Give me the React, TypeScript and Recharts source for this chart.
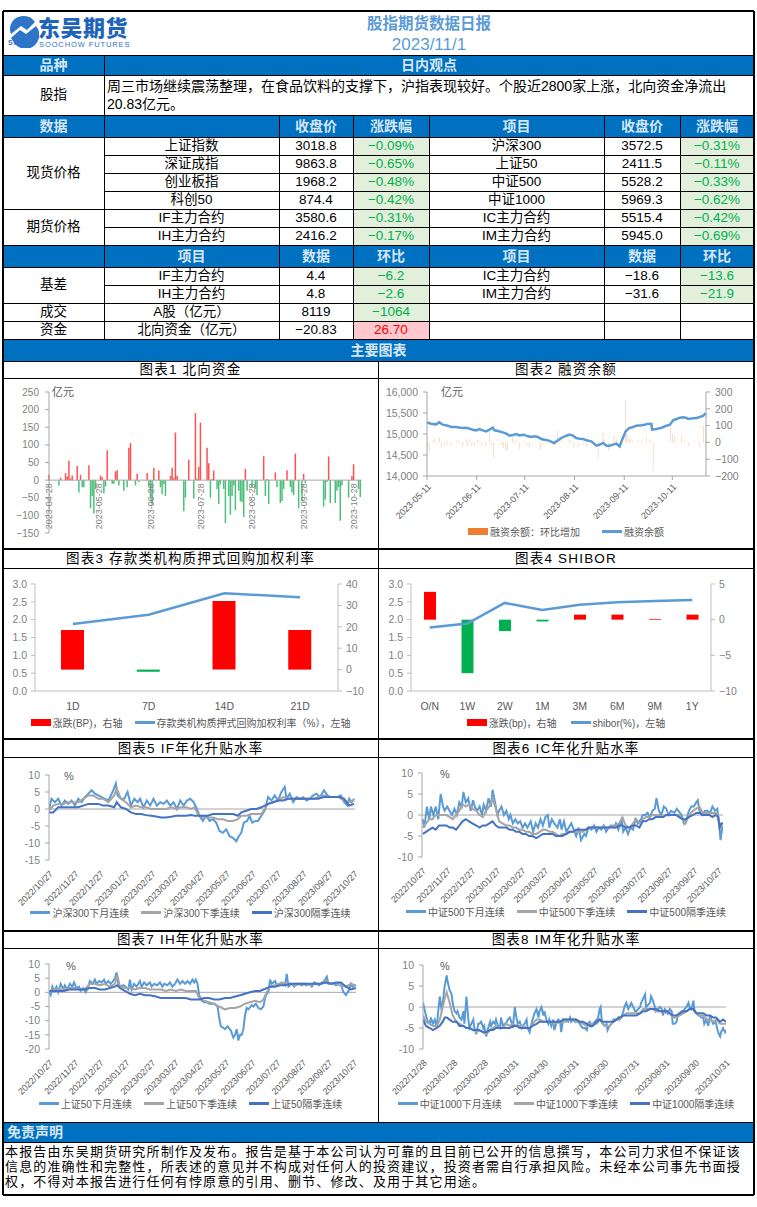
import React from 'react';
import { ComposedChart, Bar, Line, XAxis, YAxis, ReferenceLine, Cell } from 'recharts';

const FONT = '"Liberation Sans", "Noto Sans CJK SC", sans-serif';
const BLUE = '#0070C0';
const HDR_TXT = '#D6E6F5';
const GREEN_BG = '#E2EFDA';
const GREEN_TX = '#00B050';
const RED_BG = '#FFC7CE';
const AX = '#A6A6A6';
const TICK = '#7F7F7F';
const LBLUE = '#5B9BD5';
const GRAY = '#A5A5A5';
const DBLUE = '#4472C4';

// ---------------- table data ----------------
const summaryLines = ['周三市场继续震荡整理，在食品饮料的支撑下，沪指表现较好。个股近2800家上涨，北向资金净流出', '20.83亿元。'];
const spotNames = ['上证指数', '深证成指', '创业板指', '科创50'];
const spotClose = ['3018.8', '9863.8', '1968.2', '874.4'];
const spotChg = ['−0.09%', '−0.65%', '−0.48%', '−0.42%'];
const spotNames2 = ['沪深300', '上证50', '中证500', '中证1000'];
const spotClose2 = ['3572.5', '2411.5', '5528.2', '5969.3'];
const spotChg2 = ['−0.31%', '−0.11%', '−0.33%', '−0.62%'];
const futNames = ['IF主力合约', 'IH主力合约'];
const futClose = ['3580.6', '2416.2'];
const futChg = ['−0.31%', '−0.17%'];
const futNames2 = ['IC主力合约', 'IM主力合约'];
const futClose2 = ['5515.4', '5945.0'];
const futChg2 = ['−0.42%', '−0.69%'];
const basisNames = ['IF主力合约', 'IH主力合约'];
const basisVals = ['4.4', '4.8'];
const basisChg = ['−6.2', '−2.6'];
const basisNames2 = ['IC主力合约', 'IM主力合约'];
const basisVals2 = ['−18.6', '−31.6'];
const basisChg2 = ['−13.6', '−21.9'];
const disclaimerLines = [
  '本报告由东吴期货研究所制作及发布。报告是基于本公司认为可靠的且目前已公开的信息撰写，本公司力求但不保证该',
  '信息的准确性和完整性，所表述的意见并不构成对任何人的投资建议，投资者需自行承担风险。未经本公司事先书面授',
  '权，不得对本报告进行任何有悖原意的引用、删节、修改、及用于其它用途。',
];

// ---------------- chart 1: northbound flow (day offset from 2023-04-28, 亿元) ----------------
const nbTickDays = [0, 30, 61, 91, 122, 153, 183];
const nbTickLabels = ['2023-04-28', '2023-05-28', '2023-06-28', '2023-07-28', '2023-08-28', '2023-09-28', '2023-10-28'];
const nbFlow: [number, number][] = [
  [0, 15], [6, -15], [7, 7], [10, 20], [11, 10], [12, 55], [13, 5], [14, 13], [17, 40], [18, -35], [19, 15], [20, -20], [21, -20],
  [24, 42], [25, -80], [26, -45], [27, -95], [28, -25], [31, 13], [32, 8], [33, -37], [34, -18], [35, 85], [38, -10], [39, -10],
  [40, 25], [41, 28], [42, -15], [45, -30], [47, -20], [48, 92], [49, 105], [52, -15], [53, 18], [54, -5], [59, 20], [60, -15],
  [61, -50], [62, -70], [63, 35], [66, 27], [67, -20], [68, -40], [69, -12], [70, -45], [73, 12], [74, 35], [75, 5], [76, 135],
  [77, 12], [81, -88], [82, -50], [84, 58], [87, -52], [88, 190], [89, 4], [90, 38], [91, 163], [95, 92], [96, 48], [97, -50],
  [98, 3], [99, 27], [101, -25], [102, -68], [103, -12], [105, -25], [106, -122], [108, -45], [109, -98], [110, -45], [111, -15],
  [112, -85], [114, -30], [115, -60], [116, -62], [117, -105], [118, 32], [119, -30], [122, -20], [124, -25], [125, -42], [129, 68],
  [130, -45], [131, 3], [132, -68], [136, 22], [137, -20], [139, -65], [140, -60], [141, -25], [143, 28], [145, -20], [146, -35],
  [147, -42], [148, 75], [150, -80], [152, -60], [153, 18], [154, -8], [165, -75], [166, -55], [167, -5], [168, 67], [169, -65],
  [172, -65], [173, -30], [174, -20], [175, -115], [176, -15], [180, -50], [182, 12], [183, 45], [186, -25], [187, -48],
];

// ---------------- chart 2: margin balance (day offset from 2023-05-11) ----------------
const mgTickDays = [0, 31, 61, 92, 123, 153];
const mgTickLabels = ['2023-05-11', '2023-06-11', '2023-07-11', '2023-08-11', '2023-09-11', '2023-10-11'];
const mgBalance: [number, number][] = [
  [0, 15278], [2.5, 15246], [5.6, 15230], [7.7, 15278], [9.8, 15222], [12.9, 15198], [15, 15167], [18.1, 15167], [20.8, 15150],
  [22.3, 15143], [24.4, 15150], [26.5, 15127], [28.5, 15103], [30.6, 15087], [32.7, 15119], [34.8, 15087], [36.9, 15063],
  [39, 15103], [41, 15150], [42.1, 15087], [44.2, 15071], [47.3, 15040], [49.4, 15008], [51.5, 14960], [53.5, 14976], [55.6, 15000],
  [57.7, 14968], [60.4, 14984], [62.9, 14944], [65, 14929], [67.1, 14944], [69.2, 14929], [71.3, 14881], [73.3, 14865],
  [75.4, 14849], [77.5, 14817], [79.2, 14786], [81.7, 14849], [83.8, 14905], [86.9, 14960], [89, 14984], [91, 14960],
  [93.1, 14905], [95.2, 14889], [97.3, 14881], [99.4, 14849], [102.5, 14825], [104.2, 14770], [105.6, 14722], [107.7, 14746],
  [109.8, 14786], [111.9, 14722], [114, 14722], [116, 14746], [118.1, 14770], [120.2, 14706], [121.7, 14865], [123.8, 15056],
  [125.8, 15135], [128.5, 15167], [130.6, 15198], [133.8, 15206], [135.8, 15222], [137.9, 15246], [140, 15238], [140.4, 15103],
  [143.1, 15119], [146.3, 15150], [149.4, 15198], [151.5, 15222], [153.5, 15325], [155.6, 15357], [157.7, 15389], [159.8, 15397],
  [161.9, 15381], [162.9, 15357], [166, 15373], [168.1, 15381], [170.2, 15405], [172.3, 15436], [174, 15500],
];
const mgChange: [number, number][] = [
  [0.4, -30], [1.5, -55], [4.2, 15], [5, 20], [6.3, -10], [7.7, 30], [8.8, -30], [10.8, -20], [11.9, 10], [12.9, -15], [14, 5],
  [15, -25], [18.5, 10], [19.6, 8], [20.6, -5], [22.3, -30], [22.9, -10], [24.4, 20], [25.4, -25], [26.5, 20], [27.5, -20],
  [28.5, -10], [29.6, -20], [31.7, 15], [32.7, -5], [33.8, -15], [34.8, -10], [36.3, -25], [39, 60], [40, -15], [41.7, -95],
  [46.3, -15], [47.3, -10], [47.9, -35], [48.8, -45], [50.4, -45], [53.5, 30], [54.6, 15], [55.6, 10], [57.7, -40], [60.4, 10],
  [61.9, -20], [64, -30], [66, -5], [70.8, -45], [72.3, 10], [74.4, -10], [77.1, 5], [78.5, -5], [79.6, -15], [81.3, 70],
  [83.8, 15], [85.8, -10], [89, 20], [90, -10], [91.7, -30], [94.2, -30], [97.3, -20], [99.4, -30], [102.9, -10], [106.7, -95],
  [109.8, 60], [110.8, 20], [113.3, -50], [116.7, 35], [118.1, 20], [120.2, -20], [123.8, 255], [124.6, 50], [125.8, 40],
  [126.9, 20], [127.9, 15], [131.7, 15], [133.8, 10], [136.9, 30], [139, 20], [140, 5], [141, -170], [152.1, 100], [152.9, 50],
  [154.2, 40], [155.2, -5], [158.8, 35], [160.8, 10], [162.9, -25], [166, 5], [167.1, 10], [168.8, 5], [170.2, -25],
  [172.3, 100], [173.8, 20],
];

// ---------------- chart 3: repo ----------------
const repoTerms = ['1D', '7D', '14D', '21D'];
const repoRate = [1.88, 2.14, 2.74, 2.63];
const repoBp = [18.5, -1, 32, 18.5];

// ---------------- chart 4: SHIBOR ----------------
const shiborTerms = ['O/N', '1W', '2W', '1M', '3M', '6M', '9M', '1Y'];
const shiborRate = [1.78, 1.89, 2.47, 2.27, 2.42, 2.49, 2.52, 2.55];
const shiborBp = [3.9, -7.5, -1.6, -0.25, 0.7, 0.7, 0.1, 0.7];

// ---------------- charts 5-8 common ticks ----------------
const yearTickDays = [0, 31, 61, 92, 123, 151, 182, 212, 243, 273, 304, 335, 365];
const yearTickLabels = ['2022/10/27', '2022/11/27', '2022/12/27', '2023/01/27', '2023/02/27', '2023/03/27', '2023/04/27', '2023/05/27', '2023/06/27', '2023/07/27', '2023/08/27', '2023/09/27', '2023/10/27'];
const imTickDays = [0, 31, 62, 93, 123, 154, 184, 215, 246, 276, 307];
const imTickLabels = ['2022/12/28', '2023/01/28', '2023/02/28', '2023/03/31', '2023/04/30', '2023/05/31', '2023/06/30', '2023/07/31', '2023/08/31', '2023/09/30', '2023/10/31'];

// chart 5: IF
const ifNext: [number, number][] = [
  [0, 0], [3, 3], [7, 2], [11, 3], [15, 1], [19, 2.5], [23, 1.5], [27, 2.5], [31, 1], [35, 3], [39, 2], [43, 3.5], [47, 4.5], [51, 5.5],
  [55, 4.5], [59, 4], [63, 3.5], [67, 3], [71, 2.5], [76, 5], [80, 7.5], [82, 4], [86, 3], [90, 3], [94, 5], [98, 1], [102, 3],
  [106, 2], [109, 3], [113, 0.5], [117, 2.5], [121, 1], [125, 3], [129, 1], [133, 2], [137, 1.5], [141, 2.5], [145, 1], [149, 2],
  [153, 0], [157, 2.5], [161, 1], [165, 2.5], [169, 3], [173, 2], [177, 0], [180, -2], [184, -3.5], [188, -2], [192, -3.5],
  [196, -3], [200, -4], [204, -6.5], [208, -7], [212, -6], [216, -8], [220, -8.5], [224, -9.5], [227, -8], [230, -7], [233, -4],
  [237, -3.5], [240, -2], [243, -4], [247, -3.5], [250, -3.5], [254, -2], [258, -0.5], [262, 3.5], [266, 2.5], [270, 4],
  [274, 2.5], [278, 5], [282, 6.5], [284, 3], [288, 4.5], [292, 2], [296, 3.5], [300, 3], [304, 3.5], [308, 2.5], [312, 3],
  [316, 4], [320, 4.5], [324, 3.5], [329, 5.5], [333, 4], [337, 3.5], [341, 3.5], [345, 3.5], [349, 4], [353, 2], [357, 1],
  [359, 3], [362, 2], [365, 3],
];
const ifDays = [0, 5, 11, 17, 23, 29, 35, 41, 47, 53, 59, 65, 71, 78, 81, 86, 92, 98, 104, 110, 116, 122, 128, 134, 140, 146, 152, 158, 164, 170, 174, 178, 184, 190, 196, 202, 208, 214, 220, 226, 230, 236, 242, 248, 254, 258, 262, 268, 274, 280, 286, 292, 298, 304, 310, 316, 322, 329, 335, 341, 347, 353, 359, 365];
const ifQuarter = [-0.5, 1, 1.5, 1.5, 2, 2, 2, 3, 4, 4, 3, 3, 2, 4, 6, 3, 2, 0.5, 1, 0.5, 0.5, 0, 0, 0, 0, 0.5, 0, 0.5, 0.5, 0, 0.5, -1.5, -2.5, -2.5, -2.5, -3, -3, -3.5, -3.5, -3, -2, -2, -1.5, -1.5, -1.5, 0, 1.5, 2, 2.5, 3.5, 3, 3, 3, 3, 3, 3, 3.5, 4, 3.5, 3.5, 3.5, 2.5, 2, 2.5];
const ifFar = [-1, -1, 0.5, 0.5, 0.5, 0.5, 0.5, 1, 1.5, 1.5, 1.5, 1, 1, 0.5, 2, 0.5, 0, -1, -1.5, -1.5, -1.8, -2, -2.2, -2.5, -2.5, -2.3, -2, -2, -2, -1.8, -2, -2, -2, -2, -1.5, -1.5, -1.5, -1.5, -1.5, -2, -1, -0.5, 0, 0, 0.5, 1, 1.5, 2, 2.5, 2.5, 3, 3, 3, 3, 3, 3, 3, 3.5, 3.5, 3.5, 3.5, 3, 1, 1.5];

// chart 6: IC
const icNext: [number, number][] = [
  [1, -1], [3, -3], [6, 2], [9, -1], [11, 2], [14, 0], [17, 2], [20, -1], [23, 5], [26, 2], [28, 1], [31, 2], [34, 1], [37, 0],
  [40, 1.5], [43, 0], [46, 3], [49, 2], [51, 5.5], [54, 3], [57, 4], [60, 1], [63, 3.5], [65, 2], [68, 1], [71, 2], [74, 0],
  [76, 2.5], [79, 1], [82, 4], [85, 2], [87, 6], [90, 3], [93, 0], [95, 1], [98, 2], [101, 0], [104, 1], [107, -1], [109, 0],
  [112, -2], [115, -1], [118, -2], [121, -1.5], [124, -3], [127, -2], [130, -3], [134, -1.5], [137, -4], [140, -2], [143, -3],
  [146, -1], [149, -2.5], [152, -0.5], [155, 0], [157, -3], [160, -1], [163, -2], [167, -3], [170, -1], [172, -3.5], [175, -1.5],
  [178, -4], [181, -3], [184, -2], [187, -3.5], [190, -5], [193, -3], [196, -6], [200, -4.5], [202, -5], [205, -3], [209, -3.5],
  [212, -2.5], [215, -4], [218, -3], [221, -3.5], [224, -2.5], [227, -4], [230, -3], [233, -2.5], [237, -3], [239, -2],
  [242, -3.5], [246, -1], [248, -4], [251, -3], [254, -4.5], [257, -3], [260, -3.5], [263, -1], [266, -2], [270, -1], [272, 0],
  [275, 0], [278, 0.5], [281, -0.5], [284, 1], [287, 1.5], [289, 4], [292, 1], [295, 0], [298, 2], [301, 1.5], [304, 0],
  [307, 1], [311, 0.5], [314, 1.5], [316, 1], [320, 0], [323, -2], [326, -1], [329, 1], [332, 2], [335, 2], [338, 3],
  [340, 3.5], [342, 1], [345, 0], [349, 1], [352, 1], [355, 0.5], [358, 2], [361, 1], [364, 1.5], [366, -2], [368, -6],
  [370, -3], [371, -2.5],
];
const icDays = [1, 5, 9, 13, 17, 21, 25, 30, 34, 38, 42, 46, 50, 54, 58, 62, 67, 71, 75, 79, 83, 87, 91, 95, 99, 104, 108, 112, 116, 120, 124, 128, 132, 136, 141, 145, 149, 153, 157, 161, 165, 169, 173, 178, 182, 186, 190, 194, 198, 202, 206, 210, 215, 219, 223, 227, 231, 235, 239, 243, 247, 251, 256, 260, 264, 268, 272, 276, 280, 284, 288, 292, 297, 301, 305, 309, 313, 317, 321, 325, 329, 334, 338, 342, 346, 350, 354, 358, 362, 365, 367, 369, 371];
const icQuarter = [-3, -2, -1, -1, 0, 0, 0, 0, -0.5, -1, 0, 1, 2.5, 2, 2.5, 1.5, 1, 0, -0.5, 1, 2, 4, 1.5, -1.5, -2, -2.5, -2.5, -3, -3, -3.5, -3.5, -4, -4, -4.5, -4.5, -4, -3.5, -3.5, -4, -4, -4.5, -5, -4.5, -4.5, -4, -4, -4, -4, -4, -3.5, -3, -3, -3, -3, -3, -3, -3, -2.5, -2.5, -2, -0.5, -2.5, -3, -2, -1, -2, -1, -0.5, -0.5, 0, 0, 0, -0.5, 0, 0, 0, 0, 0, -1, -2, 0, 1, 1.5, 2, 0.5, 0.5, 0.5, 0.5, 0.5, 0, -3, -2, -2];
const icFar = [-4.5, -4, -3.5, -3, -3.5, -2.5, -2.5, -2.5, -3, -3, -3.5, -2.5, -1.5, -1, -1.5, -2, -2.5, -3, -2.5, -2.5, -2, -1.5, -2.5, -3, -3, -3, -3.5, -3.5, -4, -4, -4.5, -4.5, -5, -5, -5.5, -5, -4.5, -4.5, -4.5, -4.5, -5, -5, -5, -4.5, -4, -4, -3.5, -3.5, -3.5, -3.5, -3, -3, -3, -3, -3, -3, -3, -3, -3, -2.5, -2.5, -3, -3, -2.5, -2.5, -3, -1.5, -1.5, -1, -1, -0.5, -0.5, -0.5, 0, 0, 0, 0, -0.5, -1, -1, -0.5, 0, 0.5, 0.5, 0, 0, 0, -0.5, 0, -0.5, -3, -2, -2];

// chart 7: IH
const ihNext: [number, number][] = [
  [0, 0], [2, -1], [4, 2], [6, 0.5], [9, 2], [11, 0], [14, 3], [17, 1], [19, 2.5], [22, 1], [25, 3], [28, 2], [30, 3.5], [33, 1.5],
  [36, 2], [38, 0.5], [41, 1.5], [44, 0], [47, 2], [49, 4], [52, 3], [55, 4.5], [57, 3], [60, 4], [63, 3.5], [66, 4.5], [68, 3],
  [71, 4], [74, 3], [77, 4], [79, 5], [81, 7], [83, 3], [86, 2], [89, 2.5], [92, 2], [95, 1], [97, 4.5], [99, 1], [102, 3],
  [105, 2], [109, 4], [111, 2], [114, 3.5], [117, 2.5], [121, 3.5], [123, 2], [126, 3], [130, 2.5], [133, 3.5], [136, 2],
  [138, 3], [142, 2.5], [145, 3.5], [148, 2], [151, 3], [154, 4.5], [157, 3], [160, 4], [163, 3], [166, 4], [169, 3],
  [172, 4.5], [174, 3.5], [176, 4.5], [178, 3], [180, -1], [183, -3], [186, -3.5], [189, -3.5], [192, -4], [195, -4],
  [198, -4], [202, -5], [204, -9], [206, -12], [209, -12.5], [211, -13], [214, -12], [218, -13.5], [221, -16], [223, -15],
  [225, -13], [227, -17], [229, -15], [231, -15], [233, -13], [235, -8], [237, -5.5], [239, -6], [243, -4.5], [245, -5],
  [248, -4], [251, -5.5], [254, -6], [257, -5], [259, -2], [261, -0.5], [263, 0], [265, 4.5], [267, 3], [271, 4], [273, 2.5],
  [276, 3], [279, 3.5], [283, 2.5], [285, 6.5], [287, 2], [291, 3], [294, 2], [296, 3], [300, 3], [303, 2.5], [306, 3],
  [308, 2.5], [312, 3], [315, 2], [318, 3.5], [321, 3], [324, 2.5], [327, 3.5], [330, 4], [333, 5.5], [335, 3], [338, 3],
  [341, 3], [344, 2.5], [347, 3], [350, 2.5], [353, 0], [356, -1], [358, 0], [360, 1], [362, 3], [364, 2], [368, 2.5],
];
const ihDays = [0, 6, 12, 18, 24, 30, 36, 43, 49, 55, 61, 67, 73, 79, 82, 85, 91, 97, 103, 109, 115, 121, 128, 134, 140, 146, 152, 158, 164, 170, 176, 180, 186, 192, 198, 204, 211, 217, 223, 229, 235, 241, 247, 253, 257, 261, 265, 271, 277, 283, 289, 296, 302, 308, 314, 320, 326, 332, 338, 344, 350, 356, 362, 368];
const ihQuarter = [0.5, 1, 1, 1, 1.5, 1.5, 1, 1, 3, 3, 2.5, 3, 2, 3, 6, 2, 1.5, 1.5, 1, 1.5, 1.5, 1, 1, 1, 0.5, 1, 0.5, 1, 0.5, 0.5, 0.5, -2, -3, -3.5, -4, -5, -6, -5.5, -5.5, -5, -4, -3.5, -3, -3.5, -2.5, 0, 2, 2.5, 3, 3.5, 3, 2.5, 3, 3, 2.5, 3, 3, 4, 3, 3, 2.5, 2, 3, 2.5];
const ihFar = [0.5, 0.5, 0.5, 0.5, 1, 1, 1, 1, 1.5, 1.5, 1, 1, 1.5, 2, 2.5, 1.5, 0.5, -0.5, -1, -0.5, -1, -1, -1.5, -2, -2, -2, -2, -2, -2, -2.5, -2.5, -2.5, -2, -2, -2.5, -2.5, -2, -2, -1.5, -1, -0.5, 0, 0.5, 0.5, 1, 1.5, 2, 2, 2.5, 2.5, 3, 3, 3, 3, 3, 3, 3, 3.5, 3, 3.5, 3.5, 2, 1, 1.5];

// chart 8: IM
const imNext: [number, number][] = [
  [0, 1], [2, -1], [3, -2], [5, -3.5], [7, -4], [8, -2.5], [10, -4], [12, -3], [14, -5], [15, -2], [17, 2.5], [19, -1], [20, 1],
  [22, 5], [24, 7.5], [25, 6], [27, 4], [29, 3], [30, 1], [32, -1], [34, -1.5], [35, -1], [37, -2.5], [39, -3], [41, -1],
  [42, -4], [44, 2.5], [46, -3], [47, -5], [49, -4], [51, -3], [52, -5], [54, -6.5], [56, -4], [57, -4], [59, -3.5], [61, -5],
  [62, -4.5], [64, -7], [66, -5], [68, -3.5], [69, -4.5], [71, -3.5], [73, -4], [74, -3], [76, -4.5], [78, -5], [79, -2.5],
  [81, -4.5], [83, -4], [84, -4], [86, -3], [88, -2.5], [90, -4], [91, -5], [93, 0], [95, -3], [96, -4], [98, -3.5], [100, -5],
  [101, -4.5], [103, -4], [105, -3], [106, -5], [108, -6], [110, -4], [111, -3], [113, -1.5], [115, -0.5], [117, -2.5],
  [118, -1], [120, 0], [122, -2], [123, -1], [125, -3], [127, -4], [128, -3], [130, -4.5], [132, -3], [133, -5.5], [135, -4],
  [137, -3], [139, -3.5], [140, -6], [142, -3], [144, -3], [145, -3], [147, -3.5], [149, -2.5], [150, -3.5], [152, -3],
  [154, -3.5], [155, -3], [157, -3.5], [159, -4], [160, -4.5], [162, -5], [164, -5], [166, -5.5], [167, -4], [169, -3.5],
  [171, -4.5], [172, -4], [174, -3.5], [176, -3], [177, -3], [179, -0.5], [180, 0], [181, -3], [182, -4], [184, -4.5],
  [186, -4], [187, -5.5], [189, -4.5], [191, -4], [193, -3], [194, -3], [196, -3], [198, -2.5], [199, -3], [201, -2.5],
  [203, -1], [204, 0], [206, 1], [208, -0.5], [209, 0], [211, 1], [213, 0], [215, -1], [216, -1], [218, -0.5], [220, 0],
  [221, 1], [223, 2], [225, 3], [226, 0], [228, 0.5], [230, 1], [231, 2.5], [233, 1.5], [235, 0], [236, -1], [238, -0.5],
  [240, 0], [242, -0.5], [243, -2], [245, -0.5], [247, -1], [248, -1.5], [250, -0.5], [252, -1], [253, -4], [255, -4],
  [257, -3.5], [258, -2], [260, -1.5], [262, -1], [264, -1], [265, -0.5], [267, 0], [269, 1], [270, 0], [272, -0.5],
  [274, 1.5], [275, -1], [277, -1.5], [279, -2], [280, -2], [282, -2.5], [284, -2.5], [285, -4], [287, -3], [289, -4.5],
  [291, -2], [292, -3], [294, -4], [296, -3.5], [297, -4], [299, -6], [301, -7], [302, -6], [304, -5], [306, -6], [307, -5.5],
];
const imDays = [0, 3, 7, 10, 14, 17, 20, 22, 24, 27, 30, 34, 37, 41, 44, 47, 51, 54, 57, 61, 64, 68, 71, 74, 78, 81, 84, 88, 91, 95, 98, 101, 105, 108, 111, 115, 118, 122, 125, 128, 132, 135, 139, 142, 145, 149, 152, 155, 159, 162, 166, 169, 172, 176, 179, 182, 186, 189, 193, 196, 199, 203, 206, 209, 213, 216, 220, 223, 226, 230, 233, 236, 240, 243, 247, 250, 253, 257, 260, 264, 267, 270, 274, 277, 280, 284, 287, 291, 294, 297, 301, 304, 307];
const imQuarter = [-2, -3.5, -4, -4.5, -4.5, -3, 0, 2, 3.5, 1, -2, -3.5, -4, -4.5, -5, -5, -5.5, -6, -5.5, -6, -6.5, -5.5, -5, -4.5, -5, -5, -4, -4.5, -4, -4.5, -4.5, -4.5, -5, -5, -4, -3, -3, -3.5, -3.5, -3.5, -4, -4, -3.5, -3.5, -3.5, -3, -3, -3.5, -3.5, -4, -4.5, -4, -4, -4, -3, -4, -4.5, -4.5, -3.5, -3, -3, -2, -1.5, -1.5, -1.5, -1.5, -1.5, -0.5, -0.5, -0.5, -0.5, -1, -1, -1, -1.5, -1.5, -2.5, -2.5, -2, -1.5, -1, -0.5, -0.5, -1.5, -2, -2, -3, -3, -3.5, -3, -4, -4, -4];
const imFar = [-3, -4.5, -5, -5.5, -5, -4.5, -3.5, -2.5, -2.5, -3, -3.5, -3.5, -4.5, -4.5, -5, -5, -5.5, -5.5, -5.5, -6, -6, -5.5, -5.5, -5, -5, -5, -5, -5, -4.5, -4.5, -5, -5, -5, -5, -4.5, -4, -3.5, -3.5, -3.5, -3.5, -3.5, -3.5, -3.5, -3, -3, -3, -3, -3, -3.5, -3.5, -4, -4.5, -4.5, -3.5, -3, -3.5, -3.5, -3.5, -3.5, -3, -2.5, -2, -2, -2, -2, -2, -1.5, -1, -1, -0.5, -0.5, -0.5, -1, -1, -1, -1.5, -2, -2, -1.5, -1, -1, -0.5, -0.5, -1.5, -1.5, -1.5, -2, -2, -2.5, -2.5, -3.5, -3, -3.5];

// ---------------- helpers ----------------
const minus = (v: number) => (v < 0 ? '\u2212' + Math.abs(v) : String(v));
const hyph = (v: number) => String(v);
const pairs = (p: [number, number][]) => p.map(([d, v]) => ({ d, v }));
const zipDays = (days: number[], vals: number[]) => days.map((d, i) => ({ d, v: vals[i] }));

type TP = { x1: number; x2: number; y1: number; y2: number; children?: React.ReactNode; color?: string; bg?: string; bold?: boolean; size?: number; left?: boolean; pad?: number; ls?: number };
const T = ({ x1, x2, y1, y2, children, color = '#000', bg, bold, size = 13.5, left, pad = 0, ls = 0 }: TP) => (
  <div style={{ position: 'absolute', left: x1, top: y1, width: x2 - x1, height: y2 - y1, background: bg, color, fontWeight: bold ? 700 : 400, fontSize: size, fontFamily: FONT, display: 'flex', alignItems: 'center', justifyContent: left ? 'flex-start' : 'center', paddingLeft: pad, boxSizing: 'border-box', whiteSpace: 'nowrap', lineHeight: 1, letterSpacing: ls }}>{children}</div>
);
const H = ({ y, x1 = 3, x2 = 754, t = 1 }: { y: number; x1?: number; x2?: number; t?: number }) => (
  <div style={{ position: 'absolute', left: x1, top: y - t / 2, width: x2 - x1, height: t, background: '#000' }} />
);
const V = ({ x, y1, y2, t = 1 }: { x: number; y1: number; y2: number; t?: number }) => (
  <div style={{ position: 'absolute', left: x - t / 2, top: y1, width: t, height: y2 - y1, background: '#000' }} />
);

const C = [3, 104, 279, 353, 429, 604, 680, 754];

// ---------------- legend ----------------
type LegItem = { label: string; color: string; kind: 'rect' | 'line' };
const Legend = ({ x, y, w, items, gap = 16 }: { x: number; y: number; w: number; items: LegItem[]; gap?: number }) => (
  <div style={{ position: 'absolute', left: x, top: y - 8, width: w, height: 16, display: 'flex', justifyContent: 'center', alignItems: 'center', gap, fontFamily: FONT, fontSize: 10, color: '#595959', whiteSpace: 'nowrap' }}>
    {items.map((it, i) => (
      <div key={i} style={{ display: 'flex', alignItems: 'center', gap: 2 }}>
        <div style={{ width: 20, height: it.kind === 'rect' ? 7 : 3, background: it.color }} />
        <span>{it.label}</span>
      </div>
    ))}
  </div>
);

const Unit = ({ x, y, text }: { x: number; y: number; text: string }) => (
  <div style={{ position: 'absolute', left: x, top: y - 7, fontFamily: FONT, fontSize: 11, color: '#595959', lineHeight: '14px' }}>{text}</div>
);

// ---------------- chart 1 ----------------
function NorthChart() {
  const Wd = 375, Ht = 170;
  const m = { top: 14, right: 16, bottom: 14, left: 6 };
  const plotH = Ht - m.top - m.bottom - 1;
  const shift = (plotH * 150) / 400;
  const data = pairs(nbFlow);
  return (
    <ComposedChart width={Wd} height={Ht} margin={m} data={data}>
      <XAxis type="number" dataKey="d" domain={[0, 188]} ticks={nbTickDays} interval={0} height={1} axisLine={false} tickLine={false} tickSize={0} tickMargin={0}
        tick={(p: any) => {
          const i = nbTickDays.indexOf(p.payload.value);
          const ty = p.y - shift + 3;
          return <text x={p.x} y={ty} transform={`rotate(-90 ${p.x} ${ty})`} textAnchor="end" dominantBaseline="central" fontSize={9} fill={TICK} fontFamily={FONT}>{nbTickLabels[i]}</text>;
        }} />
      <YAxis domain={[-150, 250]} ticks={[-150, -100, -50, 0, 50, 100, 150, 200, 250]} width={40} tickFormatter={minus} tick={{ fontSize: 10, fill: TICK, fontFamily: FONT }} axisLine={{ stroke: AX }} tickLine={{ stroke: AX }} tickSize={4} tickMargin={6} interval={0} />
      <ReferenceLine y={0} stroke={AX} />
      <Bar dataKey="v" barSize={2} isAnimationActive={false}>
        {data.map((r, i) => <Cell key={i} fill={r.v >= 0 ? '#FF5050' : '#4CC07A'} />)}
      </Bar>
    </ComposedChart>
  );
}

// ---------------- chart 2 ----------------
function MarginChart() {
  const data = pairs(mgChange);
  return (
    <ComposedChart width={376} height={171} margin={{ top: 14, right: 8, bottom: 28, left: 0 }} data={data}>
      <XAxis type="number" dataKey="d" domain={[0, 174]} ticks={mgTickDays} interval={0} height={45} tickFormatter={(v: number) => mgTickLabels[mgTickDays.indexOf(v)]} angle={-45} textAnchor="end" tick={{ fontSize: 9, fill: '#595959', fontFamily: FONT }} axisLine={{ stroke: AX }} tickLine={{ stroke: AX }} tickSize={4} tickMargin={3} />
      <YAxis yAxisId="L" domain={[14000, 16000]} ticks={[14000, 14500, 15000, 15500, 16000]} width={49} tickFormatter={(v: number) => v.toLocaleString('en-US')} tick={{ fontSize: 10.5, fill: TICK, fontFamily: FONT }} axisLine={{ stroke: AX }} tickLine={{ stroke: AX }} tickSize={4} tickMargin={5} interval={0} />
      <YAxis yAxisId="R" orientation="right" domain={[-200, 300]} ticks={[-200, -100, 0, 100, 200, 300]} width={40} tickFormatter={minus} tick={{ fontSize: 10.5, fill: TICK, fontFamily: FONT }} axisLine={{ stroke: AX }} tickLine={{ stroke: AX }} tickSize={4} tickMargin={5} interval={0} />
      <Bar yAxisId="R" dataKey="v" barSize={1.6} fill="#F08A4B" isAnimationActive={false} />
      <Line yAxisId="L" data={pairs(mgBalance)} dataKey="v" type="linear" stroke={LBLUE} strokeWidth={2.5} dot={false} isAnimationActive={false} />
    </ComposedChart>
  );
}

// ---------------- chart 3/4 ----------------
function BarLineChart({ cats, rates, bps, right, barSize, lm }: { cats: string[]; rates: number[]; bps: number[]; right: { domain: [number, number]; ticks: number[] }; barSize: number; lm: { yw: number; rw: number; mr: number } }) {
  const data = cats.map((c, i) => ({ c, rate: rates[i], bp: bps[i] }));
  return (
    <ComposedChart width={376} height={170} margin={{ top: 16, right: lm.mr, bottom: 27, left: 0 }} data={data}>
      <XAxis dataKey="c" height={20} tick={{ fontSize: 10.5, fill: '#595959', fontFamily: FONT }} axisLine={{ stroke: '#BFBFBF' }} tickLine={false} tickMargin={6} interval={0} />
      <YAxis yAxisId="L" domain={[0, 3]} ticks={[0, 0.5, 1, 1.5, 2, 2.5, 3]} width={lm.yw} tickFormatter={(v: number) => v.toFixed(1)} tick={{ fontSize: 10.5, fill: TICK, fontFamily: FONT }} axisLine={{ stroke: '#BFBFBF' }} tickLine={{ stroke: '#BFBFBF' }} tickSize={4} tickMargin={4} interval={0} />
      <YAxis yAxisId="R" orientation="right" domain={right.domain} ticks={right.ticks} width={lm.rw} tickFormatter={minus} tick={{ fontSize: 10.5, fill: TICK, fontFamily: FONT }} axisLine={{ stroke: '#BFBFBF' }} tickLine={{ stroke: '#BFBFBF' }} tickSize={4} tickMargin={4} interval={0} />
      <Bar yAxisId="R" dataKey="bp" barSize={barSize} isAnimationActive={false}>
        {data.map((r, i) => <Cell key={i} fill={r.bp >= 0 ? '#FF0000' : '#00B050'} />)}
      </Bar>
      <Line yAxisId="L" dataKey="rate" type="linear" stroke={LBLUE} strokeWidth={2.5} dot={false} isAnimationActive={false} />
    </ComposedChart>
  );
}

// ---------------- charts 5-8 ----------------
type SP = { height: number; m: { top: number; right: number; bottom: number }; yw: number; yDomain: [number, number]; yTicks: number[]; xDomain: [number, number]; xTicks: number[]; xLabels: string[]; next: { d: number; v: number }[]; q: { d: number; v: number }[]; far: { d: number; v: number }[] };
function SpreadChart(p: SP) {
  return (
    <ComposedChart width={376} height={p.height} margin={{ top: p.m.top, right: p.m.right, bottom: p.m.bottom, left: 0 }}>
      <XAxis type="number" dataKey="d" domain={p.xDomain} ticks={p.xTicks} interval={0} height={45} tickFormatter={(v: number) => p.xLabels[p.xTicks.indexOf(v)]} angle={-45} textAnchor="end" tick={{ fontSize: 9, fill: '#595959', fontFamily: FONT }} axisLine={false} tickLine={false} tickMargin={4} allowDataOverflow />
      <YAxis domain={p.yDomain} ticks={p.yTicks} width={p.yw} tickFormatter={hyph} tick={{ fontSize: 10.5, fill: TICK, fontFamily: FONT }} axisLine={{ stroke: AX }} tickLine={{ stroke: AX }} tickSize={4} tickMargin={5} interval={0} allowDataOverflow />
      <ReferenceLine y={0} stroke={AX} />
      <Line data={p.next} dataKey="v" type="linear" stroke={LBLUE} strokeWidth={2} dot={false} isAnimationActive={false} />
      <Line data={p.q} dataKey="v" type="linear" stroke={GRAY} strokeWidth={2} dot={false} isAnimationActive={false} />
      <Line data={p.far} dataKey="v" type="linear" stroke={DBLUE} strokeWidth={2} dot={false} isAnimationActive={false} />
    </ComposedChart>
  );
}

const Pos = ({ x, y, children }: { x: number; y: number; children: React.ReactNode }) => (
  <div style={{ position: 'absolute', left: x, top: y }}>{children}</div>
);

function Logo() {
  return (
    <div style={{ position: 'absolute', left: 7, top: 14, width: 130, height: 36 }}>
      <svg width={32} height={34} style={{ position: 'absolute', left: 0, top: 0 }}>
        <path d="M16 2 A13 13 0 0 0 4 20 L14 12 L20 16 L28 8 A13 13 0 0 0 16 2 Z" fill="#2E75C9" />
        <path d="M4 24 L13 16 L19 20 L29 12 A13 13 0 0 1 8 30 Z" fill="#2E75C9" />
      </svg>
      <div style={{ position: 'absolute', left: 1, top: 25, fontFamily: FONT, fontSize: 7, fontWeight: 700, color: '#2E75C9', letterSpacing: 0.5 }}>SCF</div>
      <div style={{ position: 'absolute', left: 31, top: 0, fontFamily: '"Noto Sans CJK SC", sans-serif', fontSize: 22, fontWeight: 900, color: '#1F64B8', lineHeight: '25px', letterSpacing: 0.5 }}>东吴期货</div>
      <div style={{ position: 'absolute', left: 32, top: 26, fontFamily: FONT, fontSize: 7.5, color: '#2E75C9', letterSpacing: 0.9, whiteSpace: 'nowrap' }}>SOOCHOW FUTURES</div>
    </div>
  );
}

export default function App() {
  const spotRows = [137, 155, 173, 191];
  const futRows = [209, 227];
  const basisRows = [267, 285];
  const green = (x1: number, x2: number, y: number, t: string) => <T key={`${x1}-${y}`} x1={x1} x2={x2} y1={y} y2={y + 18} bg={GREEN_BG} color={GREEN_TX}>{t}</T>;
  const title = (x1: number, x2: number, y1: number, y2: number, t: string) => <T x1={x1} x2={x2} y1={y1} y2={y2} size={13.5} ls={1.2}>{t}</T>;
  return (
    <div style={{ position: 'absolute', left: 0, top: 0, width: 757, height: 1207, background: '#fff', overflow: 'hidden' }}>
      {/* blue fills */}
      <div style={{ position: 'absolute', left: 3, top: 55, width: 751, height: 20, background: BLUE }} />
      <div style={{ position: 'absolute', left: 3, top: 115, width: 751, height: 22, background: BLUE }} />
      <div style={{ position: 'absolute', left: 3, top: 245, width: 751, height: 22, background: BLUE }} />
      <div style={{ position: 'absolute', left: 3, top: 339, width: 751, height: 22, background: BLUE }} />
      <div style={{ position: 'absolute', left: 3, top: 1122, width: 751, height: 20, background: BLUE }} />

      <Logo />
      <T x1={104} x2={754} y1={14} y2={33} size={15.5} bold color="#5B9BD5">股指期货数据日报</T>
      <T x1={104} x2={754} y1={34} y2={54} size={17} color="#5B9BD5">2023/11/1</T>

      <T x1={3} x2={104} y1={55} y2={75} bold color={HDR_TXT} size={14}>品种</T>
      <T x1={104} x2={754} y1={55} y2={75} bold color={HDR_TXT} size={14}>日内观点</T>
      <T x1={3} x2={104} y1={75} y2={115}>股指</T>
      <div style={{ position: 'absolute', left: 107, top: 77, width: 645, fontFamily: FONT, fontSize: 14, lineHeight: '18px', whiteSpace: 'nowrap' }}>
        {summaryLines.map((l, i) => <div key={i}>{l}</div>)}
      </div>

      <T x1={C[0]} x2={C[1]} y1={115} y2={137} bold color={HDR_TXT} size={14}>数据</T>
      <T x1={C[2]} x2={C[3]} y1={115} y2={137} bold color={HDR_TXT} size={14}>收盘价</T>
      <T x1={C[3]} x2={C[4]} y1={115} y2={137} bold color={HDR_TXT} size={14}>涨跌幅</T>
      <T x1={C[4]} x2={C[5]} y1={115} y2={137} bold color={HDR_TXT} size={14}>项目</T>
      <T x1={C[5]} x2={C[6]} y1={115} y2={137} bold color={HDR_TXT} size={14}>收盘价</T>
      <T x1={C[6]} x2={C[7]} y1={115} y2={137} bold color={HDR_TXT} size={14}>涨跌幅</T>

      <T x1={C[0]} x2={C[1]} y1={137} y2={209}>现货价格</T>
      <T x1={C[0]} x2={C[1]} y1={209} y2={245}>期货价格</T>
      {spotRows.map((y, i) => (
        <React.Fragment key={y}>
          <T x1={C[1]} x2={C[2]} y1={y} y2={y + 18}>{spotNames[i]}</T>
          <T x1={C[2]} x2={C[3]} y1={y} y2={y + 18}>{spotClose[i]}</T>
          {green(C[3], C[4], y, spotChg[i])}
          <T x1={C[4]} x2={C[5]} y1={y} y2={y + 18}>{spotNames2[i]}</T>
          <T x1={C[5]} x2={C[6]} y1={y} y2={y + 18}>{spotClose2[i]}</T>
          {green(C[6], C[7], y, spotChg2[i])}
        </React.Fragment>
      ))}
      {futRows.map((y, i) => (
        <React.Fragment key={y}>
          <T x1={C[1]} x2={C[2]} y1={y} y2={y + 18}>{futNames[i]}</T>
          <T x1={C[2]} x2={C[3]} y1={y} y2={y + 18}>{futClose[i]}</T>
          {green(C[3], C[4], y, futChg[i])}
          <T x1={C[4]} x2={C[5]} y1={y} y2={y + 18}>{futNames2[i]}</T>
          <T x1={C[5]} x2={C[6]} y1={y} y2={y + 18}>{futClose2[i]}</T>
          {green(C[6], C[7], y, futChg2[i])}
        </React.Fragment>
      ))}

      <T x1={C[1]} x2={C[2]} y1={245} y2={267} bold color={HDR_TXT} size={14}>项目</T>
      <T x1={C[2]} x2={C[3]} y1={245} y2={267} bold color={HDR_TXT} size={14}>数据</T>
      <T x1={C[3]} x2={C[4]} y1={245} y2={267} bold color={HDR_TXT} size={14}>环比</T>
      <T x1={C[4]} x2={C[5]} y1={245} y2={267} bold color={HDR_TXT} size={14}>项目</T>
      <T x1={C[5]} x2={C[6]} y1={245} y2={267} bold color={HDR_TXT} size={14}>数据</T>
      <T x1={C[6]} x2={C[7]} y1={245} y2={267} bold color={HDR_TXT} size={14}>环比</T>

      <T x1={C[0]} x2={C[1]} y1={267} y2={303}>基差</T>
      {basisRows.map((y, i) => (
        <React.Fragment key={y}>
          <T x1={C[1]} x2={C[2]} y1={y} y2={y + 18}>{basisNames[i]}</T>
          <T x1={C[2]} x2={C[3]} y1={y} y2={y + 18}>{basisVals[i]}</T>
          {green(C[3], C[4], y, basisChg[i])}
          <T x1={C[4]} x2={C[5]} y1={y} y2={y + 18}>{basisNames2[i]}</T>
          <T x1={C[5]} x2={C[6]} y1={y} y2={y + 18}>{basisVals2[i]}</T>
          {green(C[6], C[7], y, basisChg2[i])}
        </React.Fragment>
      ))}
      <T x1={C[0]} x2={C[1]} y1={303} y2={321}>成交</T>
      <T x1={C[1]} x2={C[2]} y1={303} y2={321}>A股（亿元）</T>
      <T x1={C[2]} x2={C[3]} y1={303} y2={321}>8119</T>
      {green(C[3], C[4], 303, '−1064')}
      <T x1={C[0]} x2={C[1]} y1={321} y2={339}>资金</T>
      <T x1={C[1]} x2={C[2]} y1={321} y2={339}>北向资金（亿元）</T>
      <T x1={C[2]} x2={C[3]} y1={321} y2={339}>−20.83</T>
      <T x1={C[3]} x2={C[4]} y1={321} y2={339} bg={RED_BG} color="#FF0000">26.70</T>

      <T x1={3} x2={754} y1={339} y2={361} bold color={HDR_TXT} size={14}>主要图表</T>

      {/* chart titles */}
      {title(3, 378, 361, 378, '图表1  北向资金')}
      {title(378, 754, 361, 378, '图表2  融资余额')}
      {title(3, 378, 550, 568, '图表3  存款类机构质押式回购加权利率')}
      {title(378, 754, 550, 568, '图表4  SHIBOR')}
      {title(3, 378, 740, 757, '图表5  IF年化升贴水率')}
      {title(378, 754, 740, 757, '图表6  IC年化升贴水率')}
      {title(3, 378, 932, 948, '图表7  IH年化升贴水率')}
      {title(378, 754, 932, 948, '图表8  IM年化升贴水率')}

      {/* charts */}
      <Pos x={3} y={378}><NorthChart /></Pos>
      <Unit x={52} y={392} text="亿元" />
      <Pos x={378} y={378}><MarginChart /></Pos>
      <Unit x={441} y={392} text="亿元" />
      <Legend x={378} y={531} w={376} gap={22} items={[{ label: '融资余额：环比增加', color: '#ED7D31', kind: 'rect' }, { label: '融资余额', color: LBLUE, kind: 'line' }]} />

      <Pos x={2} y={568}>
        <BarLineChart cats={repoTerms} rates={repoRate} bps={repoBp} right={{ domain: [-10, 40], ticks: [-10, 0, 10, 20, 30, 40] }} barSize={23} lm={{ yw: 33, rw: 34, mr: 6 }} />
      </Pos>
      <Legend x={3} y={722} w={375} gap={12} items={[{ label: '涨跌(BP)，右轴', color: '#FF0000', kind: 'rect' }, { label: '存款类机构质押式回购加权利率（%），左轴', color: LBLUE, kind: 'line' }]} />
      <Pos x={378} y={568}>
        <BarLineChart cats={shiborTerms} rates={shiborRate} bps={shiborBp} right={{ domain: [-10, 5], ticks: [-10, -5, 0, 5] }} barSize={12} lm={{ yw: 33, rw: 34, mr: 9 }} />
      </Pos>
      <Legend x={378} y={722} w={376} gap={14} items={[{ label: '涨跌(bp)，右轴', color: '#FF0000', kind: 'rect' }, { label: 'shibor(%)，左轴', color: LBLUE, kind: 'line' }]} />

      <Pos x={3} y={757}>
        <SpreadChart height={173} m={{ top: 18, right: 24, bottom: 25 }} yw={46} yDomain={[-15, 10]} yTicks={[-15, -10, -5, 0, 5, 10]} xDomain={[0, 366]} xTicks={yearTickDays} xLabels={yearTickLabels} next={pairs(ifNext)} q={zipDays(ifDays, ifQuarter)} far={zipDays(ifDays, ifFar)} />
      </Pos>
      <Unit x={64} y={776} text="%" />
      <Legend x={3} y={912} w={375} gap={12} items={[{ label: '沪深300下月连续', color: LBLUE, kind: 'line' }, { label: '沪深300下季连续', color: GRAY, kind: 'line' }, { label: '沪深300隔季连续', color: DBLUE, kind: 'line' }]} />

      <Pos x={378} y={757}>
        <SpreadChart height={173} m={{ top: 16, right: 31, bottom: 28 }} yw={44} yDomain={[-10, 10]} yTicks={[-10, -5, 0, 5, 10]} xDomain={[0, 371]} xTicks={yearTickDays} xLabels={yearTickLabels} next={pairs(icNext)} q={zipDays(icDays, icQuarter)} far={zipDays(icDays, icFar)} />
      </Pos>
      <Unit x={440} y={774} text="%" />
      <Legend x={378} y={911} w={376} gap={12} items={[{ label: '中证500下月连续', color: LBLUE, kind: 'line' }, { label: '中证500下季连续', color: GRAY, kind: 'line' }, { label: '中证500隔季连续', color: DBLUE, kind: 'line' }]} />

      <Pos x={3} y={948}>
        <SpreadChart height={174} m={{ top: 16, right: 23, bottom: 28 }} yw={46} yDomain={[-20, 10]} yTicks={[-20, -15, -10, -5, 0, 5, 10]} xDomain={[0, 368]} xTicks={yearTickDays} xLabels={yearTickLabels} next={pairs(ihNext)} q={zipDays(ihDays, ihQuarter)} far={zipDays(ihDays, ihFar)} />
      </Pos>
      <Unit x={66} y={966} text="%" />
      <Legend x={3} y={1103} w={375} gap={12} items={[{ label: '上证50下月连续', color: LBLUE, kind: 'line' }, { label: '上证50下季连续', color: GRAY, kind: 'line' }, { label: '上证50隔季连续', color: DBLUE, kind: 'line' }]} />

      <Pos x={378} y={948}>
        <SpreadChart height={174} m={{ top: 17, right: 28, bottom: 28 }} yw={45} yDomain={[-10, 10]} yTicks={[-10, -5, 0, 5, 10]} xDomain={[0, 307]} xTicks={imTickDays} xLabels={imTickLabels} next={pairs(imNext)} q={zipDays(imDays, imQuarter)} far={zipDays(imDays, imFar)} />
      </Pos>
      <Unit x={440} y={966} text="%" />
      <Legend x={378} y={1103} w={376} gap={12} items={[{ label: '中证1000下月连续', color: LBLUE, kind: 'line' }, { label: '中证1000下季连续', color: GRAY, kind: 'line' }, { label: '中证1000隔季连续', color: DBLUE, kind: 'line' }]} />

      <T x1={3} x2={754} y1={1122} y2={1142} bold color={HDR_TXT} size={14} left pad={4}>免责声明</T>
      <div style={{ position: 'absolute', left: 5, top: 1144, width: 748, fontFamily: FONT, fontSize: 13, lineHeight: '15px', whiteSpace: 'nowrap', letterSpacing: 1.15 }}>
        {disclaimerLines.map((l, i) => <div key={i}>{l}</div>)}
      </div>

      {/* grid lines */}
      <H y={11} t={1.5} />
      <H y={55} />
      <H y={75} />
      <H y={115} />
      <H y={137} />
      <H y={155} x1={104} />
      <H y={173} x1={104} />
      <H y={191} x1={104} />
      <H y={209} />
      <H y={227} x1={104} />
      <H y={245} />
      <H y={267} />
      <H y={285} x1={104} />
      <H y={303} />
      <H y={321} />
      <H y={339} />
      <H y={361} />
      <H y={378} />
      <H y={549} t={2} />
      <H y={568} />
      <H y={739} t={2} />
      <H y={757} />
      <H y={931} t={2} />
      <H y={948} />
      <H y={1122} />
      <H y={1142} />
      <H y={1195} t={1.5} />
      <V x={3} y1={11} y2={1195} t={1.5} />
      <V x={754} y1={11} y2={1195} t={1.5} />
      <V x={104} y1={55} y2={339} />
      {[C[2], C[3], C[4], C[5], C[6]].map((x) => <V key={x} x={x} y1={115} y2={339} />)}
      <V x={378} y1={361} y2={1122} />
    </div>
  );
}
